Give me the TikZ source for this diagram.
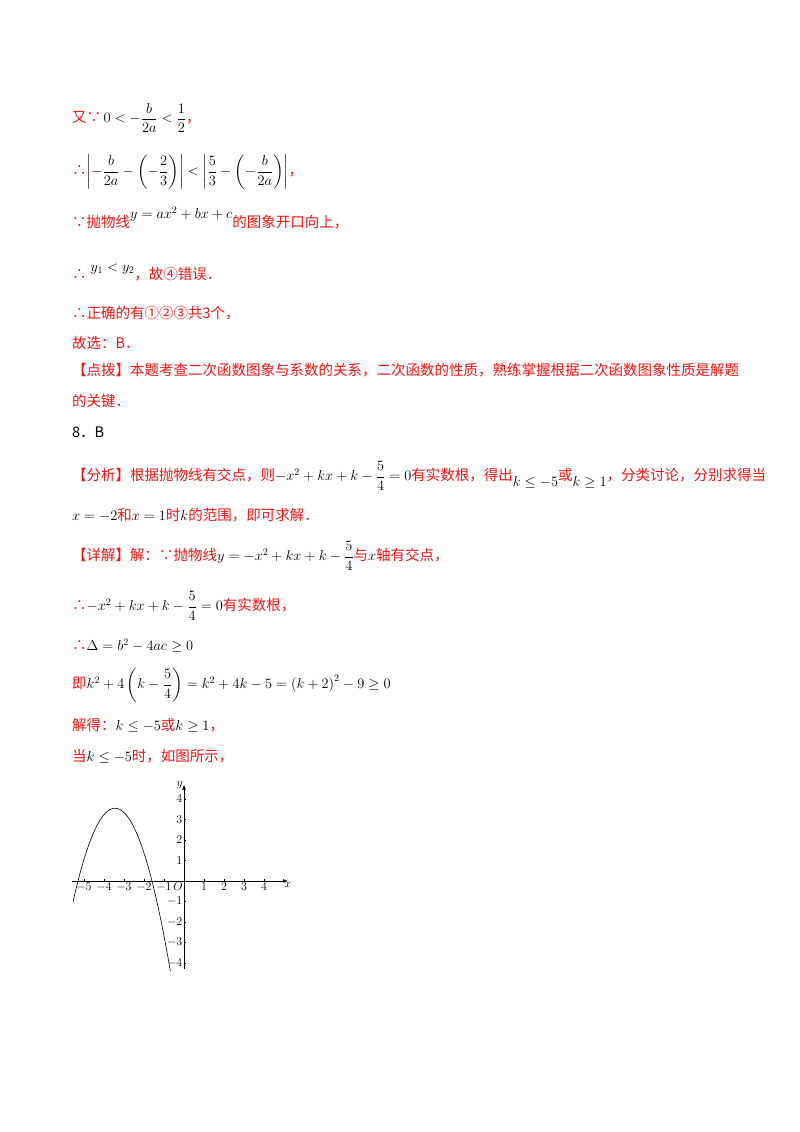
\documentclass[tikz,border=0pt]{standalone}
\usepackage{amsmath}
\usepackage{fontspec}
\newfontfamily\cjk{Noto Sans CJK SC}
\definecolor{rd}{RGB}{240,20,20}
\newcommand{\R}[1]{{\cjk\color{rd}#1}}
\begin{document}
\begin{tikzpicture}[x=1pt,y=-1pt,
  ln/.style={anchor=west,inner sep=0pt,font=\fontsize{14.5}{17}\selectfont}]
\useasboundingbox[fill=white] (0,0) rectangle (800,1132);
\node[ln] (l1) at (72,118) {\R{又∵}$\,0<-\dfrac{b}{2a}<\dfrac12$\R{，}};
\node[ln] (l2) at (72,172) {\R{∴}$\left|-\dfrac{b}{2a}-\left(-\dfrac23\right)\right|<\left|\dfrac53-\left(-\dfrac{b}{2a}\right)\right|$\R{，}};
\node[ln] (l3) at (72,218) {\R{∵抛物线}\raisebox{9pt}{$y=ax^2+bx+c$}\R{的图象开口向上，}};
\node[ln] (l4) at (72,272) {\R{∴}\raisebox{8pt}{\;$y_1<y_2$}\R{，故④错误．}};
\node[ln] (l5) at (72,313) {\R{∴正确的有①②③共3个，}};
\node[ln] (l6) at (72,343) {\R{故选：B．}};
\node[ln] (l7) at (72,370) {\R{【点拨】本题考查二次函数图象与系数的关系，二次函数的性质，熟练掌握根据二次函数图象性质是解题}};
\node[ln] (l8) at (72,401) {\R{的关键．}};
\node[ln] (l9) at (72,432) {{\cjk 8．B}};
\node[ln] (l10) at (72,476) {\R{【分析】根据抛物线有交点，则}$-x^2+kx+k-\dfrac54=0$\R{有实数根，得出}\raisebox{-6pt}{$k\le-5$}\R{或}\raisebox{-6pt}{$k\ge1$}\R{，分类讨论，分别求得当}};
\node[ln] (l11) at (72,515) {$x=-2$\R{和}$x=1$\R{时}$k$\R{的范围，即可求解．}};
\node[ln] (l12) at (72,556) {\R{【详解】解：∵抛物线}$y=-x^2+kx+k-\dfrac54$\R{与}$x$\R{轴有交点，}};
\node[ln] (l13) at (72,606) {\R{∴}$-x^2+kx+k-\dfrac54=0$\R{有实数根，}};
\node[ln] (l14) at (72,646) {\R{∴}$\Delta=b^2-4ac\ge0$};
\node[ln] (l15) at (72,685) {\R{即}$k^2+4\left(k-\dfrac54\right)=k^2+4k-5=\left(k+2\right)^2-9\ge0$};
\node[ln] (l16) at (72,725) {\R{解得：}$k\le-5$\R{或}$k\ge1$\R{，}};
\node[ln] (l17) at (72,756) {\R{当}$k\le-5$\R{时，如图所示，}};
% graph
\begin{scope}[shift={(184,881)},x=20pt,y=20.5pt,font=\fontsize{12}{12}\selectfont]
\coordinate (O) at (0,0);
\draw[-latex,line width=0.7pt] (-5.6,0) -- (5.2,0) coordinate (xe);
\draw[-latex,line width=0.7pt] (0,-4.3) -- (0,4.7) coordinate (ye);
\node[anchor=north,inner sep=1pt] at (xe) {$x$};
\node[anchor=east,inner sep=1pt] at (ye) {$y$};
\node[anchor=north east,inner sep=1pt] at (O) {$O$};
\foreach \i in {-5,-4,-3,-2,-1,1,2,3,4}{
  \draw (\i,0) -- (\i,0.12);
  \node[anchor=north,inner sep=1.5pt] at (\i,0) {$\i$};}
\foreach \i in {-4,-3,-2,-1,1,2,3,4}{
  \draw (0,\i) -- (0.12,\i);
  \node[anchor=east,inner sep=1.5pt] at (0,\i) {$\i$};}
\draw[domain=-5.55:-0.68,samples=80,line width=0.6pt] plot (\x,{-1.037*(\x+5.3)*(\x+1.6)});
\end{scope}
\end{tikzpicture}
\end{document}
